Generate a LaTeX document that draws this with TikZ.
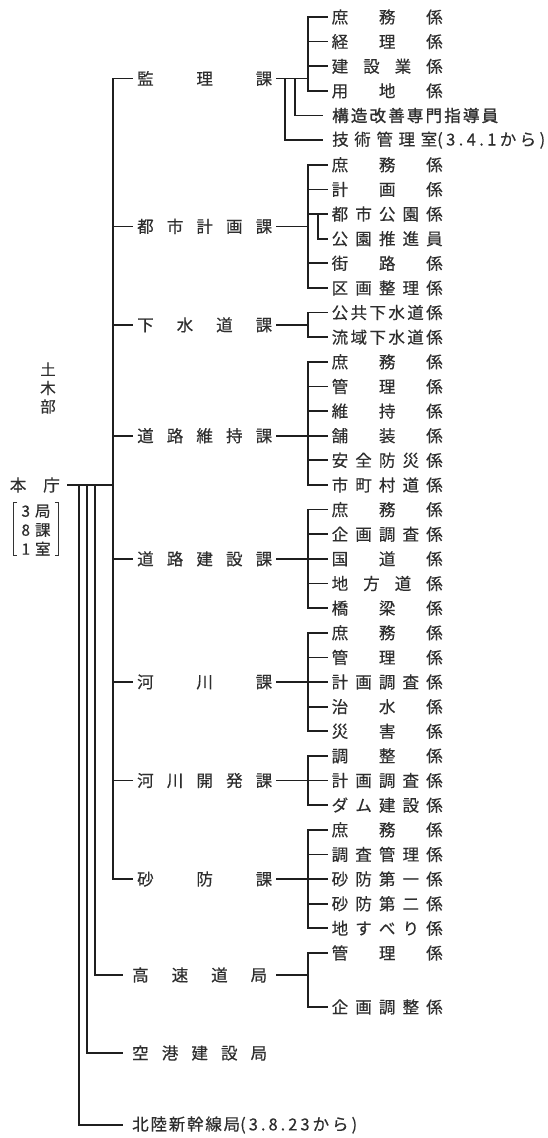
\documentclass[tikz,border=0pt]{standalone}
\usepackage{fontspec}
\setmainfont{Noto Sans CJK JP}[FakeBold=0.35]
\newfontfamily\heavycjk{Noto Sans CJK JP}[FakeBold=1.3]
\def\spreadfirst#1{#1\spreadrest}
\def\spreadrest#1{\ifx\relax#1\else\hfill#1\expandafter\spreadrest\fi}
\newcommand\spreadbox[2]{\hbox to #1{\spreadfirst#2\relax}}
\newcommand\yy[1]{17+24.63*(#1-1)}
\newcommand\secname[1]{\spreadbox{135pt}{#1}}
\newcommand\itemname[1]{\spreadbox{111pt}{#1}}
\tikzset{
  every node/.style={inner ysep=0pt, text=black!82},
  txt/.style={font=\fontsize{16.5pt}{18pt}\selectfont},
  sec/.style={txt, anchor=west, inner xsep=4pt},
  kyoku/.style={txt, anchor=west, inner xsep=9pt},
  item/.style={txt, anchor=west, inner xsep=3.5pt},
  itemwide/.style={txt, anchor=west, inner xsep=9pt},
  conn/.style={draw=black!88, line width=1.7pt},
  bracket/.style={draw=black!80, line width=0.9pt},
}
\begin{document}
\begin{tikzpicture}[x=1pt,y=-1pt]
\fill[white] (0,0) rectangle (548,1138);
\useasboundingbox (0,0) rectangle (548,1138);

% reference x positions
\coordinate (bx) at (308,0);
\coordinate (bxa) at (295,0);
\coordinate (bxb) at (285,0);
\coordinate (bxc) at (318,0);

% left side
\node[txt, anchor=east, inner xsep=7pt] (hc) at (67,485) {\spreadbox{50pt}{本庁}};
\node[font=\fontsize{15.5pt}{18.5pt}\selectfont, align=center] (bu) at (48,388) {土\\木\\部};
\node[font=\fontsize{15.5pt}{19pt}\selectfont, align=center, inner xsep=8pt] (br) at (36,530)
  {\hbox{3\hspace{5pt}局}\\\hbox{8\hspace{5pt}課}\\\hbox{1\hspace{5pt}室}};
\draw[bracket] ([xshift=4pt,yshift=2pt]br.north west) -- ([yshift=2pt]br.north west) -- (br.south west) -- ([xshift=4pt]br.south west);
\draw[bracket] ([xshift=-4pt,yshift=2pt]br.north east) -- ([yshift=2pt]br.north east) -- (br.south east) -- ([xshift=-4pt]br.south east);

\coordinate (J) at (113,485);
\coordinate (L1) at (79,485);
\coordinate (L2) at (87,485);
\coordinate (L3) at (95,485);

% sections
\node[sec] (s1) at (133,{\yy{3.5}}) {\secname{監理課}};
\node[sec] (s2) at (133,{\yy{9.5}}) {\secname{都市計画課}};
\node[sec] (s3) at (133,{\yy{13.5}}) {\secname{下水道課}};
\node[sec] (s4) at (133,{\yy{18}}) {\secname{道路維持課}};
\node[sec] (s5) at (133,{\yy{23}}) {\secname{道路建設課}};
\node[sec] (s6) at (133,{\yy{28}}) {\secname{河川課}};
\node[sec] (s7) at (133,{\yy{32}}) {\secname{河川開発課}};
\node[sec] (s8) at (133,{\yy{36}}) {\secname{砂防課}};
\node[kyoku] (k1) at (123,975) {\secname{高速道局}};
\node[kyoku] (k2) at (123,1053) {\secname{空港建設局}};
\node[kyoku] (k3) at (123,1125) {\spreadbox{108pt}{北陸新幹線局}\spreadbox{117pt}{(3.8.23から)}};

% items
\node[item] (a1) at (328,{\yy{1}}) {\itemname{庶務係}};
\node[item] (a2) at (328,{\yy{2}}) {\itemname{経理係}};
\node[item] (a3) at (328,{\yy{3}}) {\itemname{建設業係}};
\node[item] (a4) at (328,{\yy{4}}) {\itemname{用地係}};
\node[itemwide, font=\heavycjk\fontsize{16.5pt}{18pt}\selectfont] (a5) at (323,{\yy{5}}) {\spreadbox{166pt}{構造改善専門指導員}};
\node[itemwide] (a6) at (323,{\yy{6}}) {\spreadbox{105pt}{技術管理室}\spreadbox{108pt}{(3.4.1から)}};
\node[item] (b1) at (328,{\yy{7}}) {\itemname{庶務係}};
\node[item] (b2) at (328,{\yy{8}}) {\itemname{計画係}};
\node[item] (b3) at (328,{\yy{9}}) {\itemname{都市公園係}};
\node[item] (b4) at (328,{\yy{10}}) {\itemname{公園推進員}};
\node[item] (b5) at (328,{\yy{11}}) {\itemname{街路係}};
\node[item] (b6) at (328,{\yy{12}}) {\itemname{区画整理係}};
\node[item] (c1) at (328,{\yy{13}}) {\itemname{公共下水道係}};
\node[item] (c2) at (328,{\yy{14}}) {\itemname{流域下水道係}};
\node[item] (d1) at (328,{\yy{15}}) {\itemname{庶務係}};
\node[item] (d2) at (328,{\yy{16}}) {\itemname{管理係}};
\node[item] (d3) at (328,{\yy{17}}) {\itemname{維持係}};
\node[item] (d4) at (328,{\yy{18}}) {\itemname{舗装係}};
\node[item] (d5) at (328,{\yy{19}}) {\itemname{安全防災係}};
\node[item] (d6) at (328,{\yy{20}}) {\itemname{市町村道係}};
\node[item] (e1) at (328,{\yy{21}}) {\itemname{庶務係}};
\node[item] (e2) at (328,{\yy{22}}) {\itemname{企画調査係}};
\node[item] (e3) at (328,{\yy{23}}) {\itemname{国道係}};
\node[item] (e4) at (328,{\yy{24}}) {\itemname{地方道係}};
\node[item] (e5) at (328,{\yy{25}}) {\itemname{橋梁係}};
\node[item] (f1) at (328,{\yy{26}}) {\itemname{庶務係}};
\node[item] (f2) at (328,{\yy{27}}) {\itemname{管理係}};
\node[item] (f3) at (328,{\yy{28}}) {\itemname{計画調査係}};
\node[item] (f4) at (328,{\yy{29}}) {\itemname{治水係}};
\node[item] (f5) at (328,{\yy{30}}) {\itemname{災害係}};
\node[item] (g1) at (328,{\yy{31}}) {\itemname{調整係}};
\node[item] (g2) at (328,{\yy{32}}) {\itemname{計画調査係}};
\node[item] (g3) at (328,{\yy{33}}) {\itemname{ダム建設係}};
\node[item] (h1) at (328,{\yy{34}}) {\itemname{庶務係}};
\node[item] (h2) at (328,{\yy{35}}) {\itemname{調査管理係}};
\node[item] (h3) at (328,{\yy{36}}) {\itemname{砂防第一係}};
\node[item] (h4) at (328,{\yy{37}}) {\itemname{砂防第二係}};
\node[item] (h5) at (328,{\yy{38}}) {\itemname{地すべり係}};
\node[item] (m1) at (328,{\yy{39}}) {\itemname{管理係}};
\node[item] (m2) at (328,1007) {\itemname{企画調整係}};

% trunk
\draw[conn] (hc.east) -- (J);
\foreach \s in {s1,s2,s3,s4,s5,s6,s7,s8} \draw[conn] (J) |- (\s.west);
\draw[conn] (L3) |- (k1.west);
\draw[conn] (L2) |- (k2.west);
\draw[conn] (L1) |- (k3.west);

% section to branches
\foreach \s in {s1,s2,s3,s4,s5,s6,s7,s8,k1} \draw[conn] (\s.east) -- (\s.east -| bx);
\foreach \i in {a1,a2,a3,a4} \draw[conn] (s1.east -| bx) |- (\i.west);
\draw[conn] (s1.east -| bxa) |- (a5.west);
\draw[conn] (s1.east -| bxb) |- (a6.west);
\foreach \i in {b1,b2,b3,b5,b6} \draw[conn] (s2.east -| bx) |- (\i.west);
\draw[conn] (b3.west -| bxc) |- (b4.west);
\foreach \i in {c1,c2} \draw[conn] (s3.east -| bx) |- (\i.west);
\foreach \i in {d1,d2,d3,d4,d5,d6} \draw[conn] (s4.east -| bx) |- (\i.west);
\foreach \i in {e1,e2,e3,e4,e5} \draw[conn] (s5.east -| bx) |- (\i.west);
\foreach \i in {f1,f2,f3,f4,f5} \draw[conn] (s6.east -| bx) |- (\i.west);
\foreach \i in {g1,g2,g3} \draw[conn] (s7.east -| bx) |- (\i.west);
\foreach \i in {h1,h2,h3,h4,h5} \draw[conn] (s8.east -| bx) |- (\i.west);
\foreach \i in {m1,m2} \draw[conn] (k1.east -| bx) |- (\i.west);
\end{tikzpicture}
\end{document}
